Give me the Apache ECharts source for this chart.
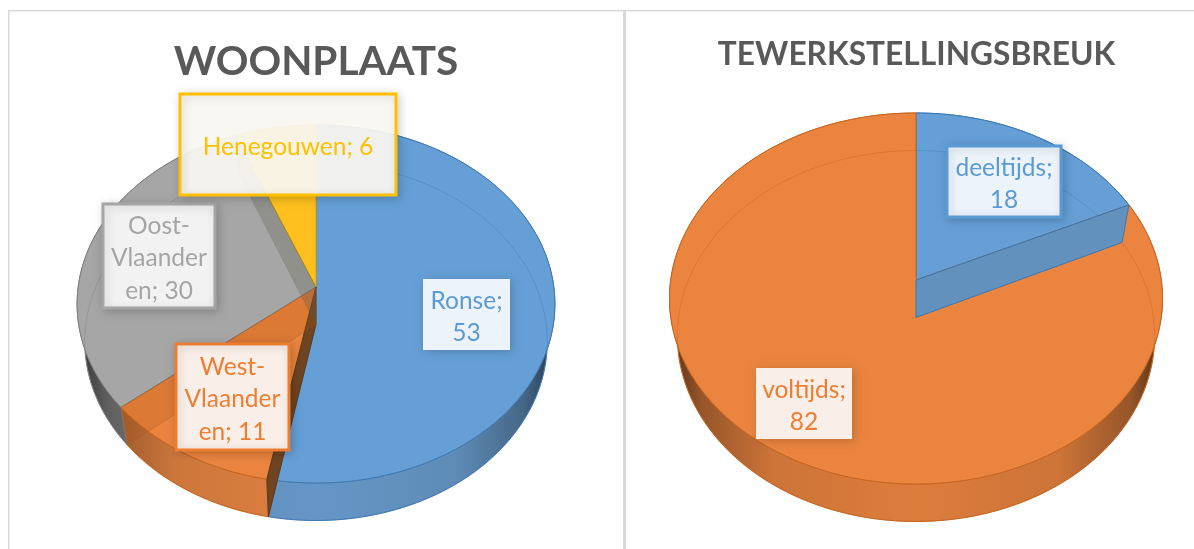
<!DOCTYPE html>
<html>
<head>
<meta charset="utf-8">
<title>Woonplaats en tewerkstellingsbreuk</title>
<script src="https://cdn.jsdelivr.net/npm/echarts@6/dist/echarts.min.js"></script>
<style>
html, body { margin: 0; padding: 0; background: #fff; }
#main { width: 1194px; height: 549px; }
</style>
</head>
<body>
<div id="main"></div>
<script>
var leftNames = ['Ronse', 'West-\nVlaander\nen', 'Oost-\nVlaander\nen', 'Henegouwen'];
var leftValues = [53, 11, 30, 6];
var leftSeparators = ['\n', ' ', ' ', ' '];
var rightNames = ['deeltijds', 'voltijds'];
var rightValues = [18, 82];
var rightSeparators = ['\n', '\n'];

var FONT = 'Lato, "Open Sans", sans-serif';
var BLUE = '#5B9BD5', ORANGE = '#ED7D31', GREY = '#A5A5A5', YELLOW = '#FFC000';

var leftPie = {
    cx: 316, cy: 304, rx: 239, ry: 179, apexY: 287, depth: 37.5,
    names: leftNames, values: leftValues, separators: leftSeparators,
    top: ['#659fd6', '#ea843f', '#a6a6a6', '#fdc01e'],
    edge: ['#3f79b3', '#c5651f', '#7f7f7f', '#d9a300'],
    rim: ['#6596c5', '#dd8040', '#8c8c8c', '#c9a020'],
    wall: ['#6f4421', 'rgba(170,80,20,.22)', 'rgba(90,90,80,.28)', null],
    wallEdge: ['#5e3a1c', 'rgba(170,80,20,.3)', 'rgba(90,90,80,.2)', null],
    text: [BLUE, ORANGE, GREY, YELLOW],
    boxes: [[423, 279, 87, 71], [176, 344, 113, 106], [103, 204, 112, 104], [180, 94, 216, 101]],
    boxFill: ['#edf3fa', '#f9efe8', '#f2f2f2', 'rgba(252,250,243,.93)'],
    boxBorder: [null, ORANGE, GREY, YELLOW]
};
var rightPie = {
    cx: 916, cy: 298.5, rx: 246.5, ry: 185.5, apexY: 280, depth: 37.5,
    names: rightNames, values: rightValues, separators: rightSeparators,
    top: ['#659fd6', '#ea843f'],
    edge: ['#3a78b5', '#c5651f'],
    rim: ['#6596c5', '#dc7d3c'],
    wall: ['#6391bd', null],
    wallEdge: ['#3a78b5', null],
    text: [BLUE, ORANGE],
    boxes: [[947, 146, 114, 71], [756, 368, 96, 71]],
    boxFill: ['#edf3fa', '#f9efe8'],
    boxBorder: [BLUE, null]
};

// perspectief: het midden van de taart ligt hoger dan het midden van de ellips,
// de onderkant van de schijf is iets smaller dan de bovenkant
function project(pie, theta, drop) {
    var b = pie.apexY - pie.cy;
    var c = b / pie.ry;
    var u = theta === null ? 0 : Math.sin(theta);
    var v = theta === null ? 0 : -Math.cos(theta);
    var w = 1 + c * v;
    var narrow = drop > 0 ? 0.968 : 1;
    var d = pie.rx * 0.995 * narrow;
    return [pie.cx + d * u / w, pie.cy + (pie.ry * v + b) / w + drop];
}

function sliceAngles(pie, i) {
    var total = 0, before = 0;
    for (var k = 0; k < pie.values.length; k++) {
        total += pie.values[k];
        if (k < i) before += pie.values[k];
    }
    return [before / total * Math.PI * 2, (before + pie.values[i]) / total * Math.PI * 2];
}

function arc(pie, from, to, drop) {
    var pts = [];
    var n = Math.max(2, Math.ceil((to - from) / 0.02));
    for (var k = 0; k <= n; k++) {
        pts.push(project(pie, from + (to - from) * k / n, drop));
    }
    return pts;
}

function shade(hex, k) {
    var c = echarts.color.parse(hex);
    return 'rgb(' + Math.round(c[0] * k) + ',' + Math.round(c[1] * k) + ',' + Math.round(c[2] * k) + ')';
}

function rimGradient(pie, color) {
    var half = pie.rx * 0.968;
    return new echarts.graphic.LinearGradient(pie.cx - half, 0, pie.cx + half, 0, [
        { offset: 0, color: shade(color, 0.45) },
        { offset: 0.05, color: shade(color, 0.68) },
        { offset: 0.2, color: shade(color, 0.93) },
        { offset: 0.5, color: color },
        { offset: 0.8, color: shade(color, 0.93) },
        { offset: 0.95, color: shade(color, 0.68) },
        { offset: 1, color: shade(color, 0.45) }
    ], true);
}

var layers = {
    rim: function (pie, i) {
        var a = sliceAngles(pie, i);
        var top = arc(pie, a[0], a[1], 0);
        var bottom = arc(pie, a[0], a[1], pie.depth).reverse();
        return {
            type: 'polygon',
            shape: { points: top.concat(bottom) },
            style: { fill: rimGradient(pie, pie.rim[i]), stroke: pie.edge[i], lineWidth: 1 }
        };
    },
    top: function (pie, i) {
        var a = sliceAngles(pie, i);
        var pts = [project(pie, null, 0)].concat(arc(pie, a[0], a[1], 0));
        return {
            type: 'polygon',
            shape: { points: pts },
            style: { fill: pie.top[i], stroke: pie.edge[i], lineWidth: 1 }
        };
    },
    ring: function (pie, i) {
        var a = sliceAngles(pie, i);
        return {
            type: 'polyline',
            shape: { points: arc(pie, a[0], a[1], pie.depth) },
            style: { fill: null, stroke: pie.edge[i], lineWidth: 1, opacity: 0.4 }
        };
    },
    wall: function (pie, i) {
        if (!pie.wall[i]) return null;
        var end = sliceAngles(pie, i)[1];
        return {
            type: 'polygon',
            shape: {
                points: [
                    project(pie, null, 0), project(pie, end, 0),
                    project(pie, end, pie.depth), project(pie, null, pie.depth)
                ]
            },
            style: { fill: pie.wall[i], stroke: pie.wallEdge[i], lineWidth: 1 }
        };
    },
    label: function (pie, i) {
        var box = pie.boxes[i];
        var border = pie.boxBorder[i];
        return {
            type: 'group',
            children: [{
                type: 'rect',
                shape: { x: box[0], y: box[1], width: box[2], height: box[3] },
                style: {
                    fill: pie.boxFill[i],
                    stroke: border,
                    lineWidth: border ? 3 : 0,
                    shadowBlur: 9,
                    shadowOffsetX: 2,
                    shadowOffsetY: 2,
                    shadowColor: 'rgba(0,0,0,.18)'
                }
            }, {
                type: 'text',
                style: {
                    x: box[0] + box[2] / 2,
                    y: box[1] + box[3] / 2 + 2.5,
                    text: pie.names[i] + ';' + pie.separators[i] + pie.values[i],
                    fill: pie.text[i],
                    fontFamily: FONT,
                    fontSize: 24.5,
                    lineHeight: 32.5,
                    align: 'center',
                    verticalAlign: 'middle'
                }
            }]
        };
    }
};

function pieSeries(pie, layer, z) {
    return {
        type: 'custom',
        coordinateSystem: 'none',
        name: layer,
        z: z,
        silent: true,
        animation: false,
        clip: false,
        data: pie.values,
        renderItem: function (params) {
            return layers[layer](pie, params.dataIndex);
        }
    };
}

var series = [];
var layerNames = ['rim', 'top', 'ring', 'wall', 'label'];
for (var l = 0; l < layerNames.length; l++) {
    series.push(pieSeries(leftPie, layerNames[l], 2 + l));
    series.push(pieSeries(rightPie, layerNames[l], 2 + l));
}

var option = {
    backgroundColor: '#fff',
    title: [{
        text: 'WOONPLAATS',
        left: 311,
        top: 36,
        textAlign: 'center',
        textStyle: { color: '#595959', fontFamily: FONT, fontWeight: 'bold', fontSize: 40.5 }
    }, {
        text: 'TEWERKSTELLINGSBREUK',
        left: 911.5,
        top: 34,
        textAlign: 'center',
        textStyle: { color: '#595959', fontFamily: FONT, fontWeight: 'bold', fontSize: 31.7 }
    }],
    graphic: [
        { type: 'rect', silent: true, z: 1, shape: { x: 8, y: 10, width: 1186, height: 1.5 }, style: { fill: '#d9d9d9' } },
        { type: 'rect', silent: true, z: 1, shape: { x: 8, y: 10, width: 1.5, height: 539 }, style: { fill: '#d9d9d9' } },
        { type: 'rect', silent: true, z: 1, shape: { x: 623, y: 10, width: 3, height: 539 }, style: { fill: '#d9d9d9' } }
    ],
    series: series
};

var myChart = echarts.init(document.getElementById('main'));
myChart.setOption(option);
</script>
</body>
</html>
